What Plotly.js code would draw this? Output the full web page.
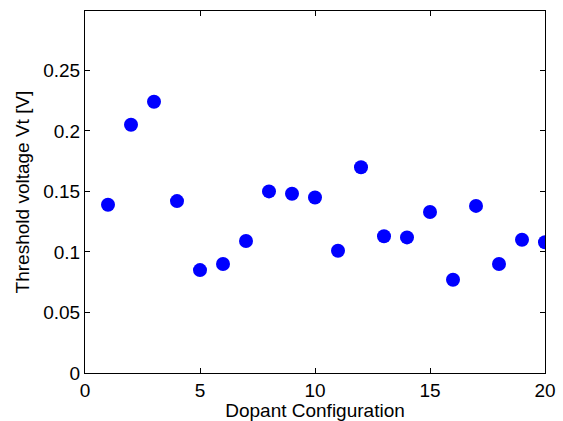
<!DOCTYPE html>
<html>
<head>
<meta charset="utf-8">
<script src="https://cdn.plot.ly/plotly-3.0.1.min.js"></script>
<style>html,body{margin:0;padding:0;background:#fff;}#chart{width:563px;height:421px;}</style>
</head>
<body>
<div id="chart"></div>
<script>
const configs = [1,2,3,4,5,6,7,8,9,10,11,12,13,14,15,16,17,18,19,20];
const vt = [0.139,0.205,0.224,0.142,0.085,0.090,0.109,0.150,0.148,0.145,0.101,0.170,0.113,0.112,0.133,0.077,0.138,0.090,0.110,0.108];
const yTicks = [0,0.05,0.1,0.15,0.2,0.25];
const yTickText = ['0','0.05','0.1','0.15','0.2','0.25'];
const xTicks = [0,5,10,15,20];

const tickFont = {family:'Liberation Sans, Arial, Helvetica, sans-serif', size:19, color:'#000'};
const titleFont = {family:'Liberation Sans, Arial, Helvetica, sans-serif', size:19, color:'#000'};
const axisCommon = {
  showline:true, linecolor:'#000', linewidth:1, mirror:'ticks',
  ticks:'inside', ticklen:5, tickcolor:'#000', tickwidth:1,
  showgrid:false, zeroline:false, tickfont:tickFont
};
Plotly.newPlot('chart', [{
  x: configs, y: vt, type:'scatter', mode:'markers',
  marker:{color:'#0000ff', size:14, line:{width:0}}
}], {
  width:563, height:421,
  margin:{l:85, r:18, t:11, b:48},
  paper_bgcolor:'#fff', plot_bgcolor:'#fff',
  showlegend:false,
  font: titleFont,
  xaxis: Object.assign({}, axisCommon, {
    range:[0,20], tickvals:xTicks, ticklabelstandoff:0,
    title:{text:'Dopant Configuration', font:titleFont, standoff:3}
  }),
  yaxis: Object.assign({}, axisCommon, {
    range:[0,0.299], tickvals:yTicks, ticktext:yTickText,
    title:{text:'Threshold voltage Vt [V]', font:titleFont, standoff:8}
  })
}, {staticPlot:true});
</script>
</body>
</html>
